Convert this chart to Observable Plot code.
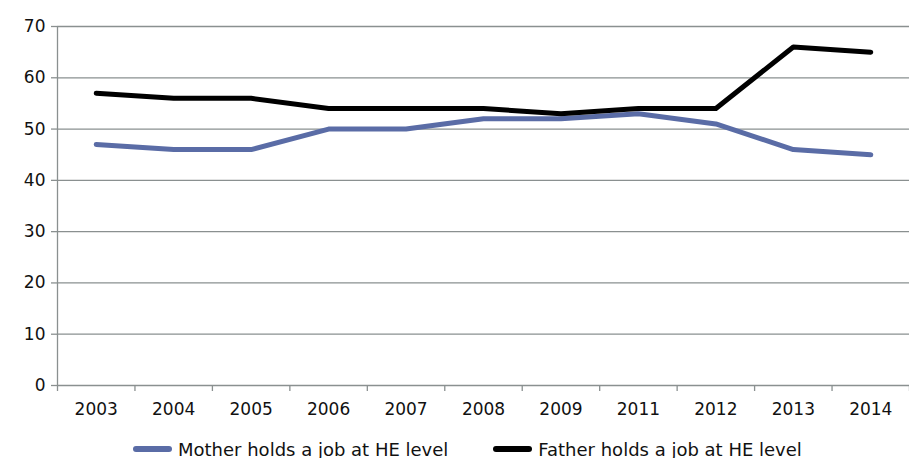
<!DOCTYPE html>
<html><head><meta charset="utf-8">
<script src="https://cdn.jsdelivr.net/npm/d3@7"></script>
<script src="https://cdn.jsdelivr.net/npm/@observablehq/plot@0.6"></script>
<style>
body{margin:0;background:#fff;font-family:"DejaVu Sans",sans-serif;}
#legend{display:flex;justify-content:flex-start;align-items:center;font-size:18px;color:#111;margin-top:11px;height:26px;padding-left:133px;}
.item{display:flex;align-items:center;}
.sw{display:inline-block;width:39px;height:6px;border-radius:3px;margin-right:6px;}
</style></head><body>
<div id="chart"></div>
<div id="legend"></div>
<script>
const years = ["2003","2004","2005","2006","2007","2008","2009","2011","2012","2013","2014"];
const mother = [47,46,46,50,50,52,52,53,51,46,45];
const father = [57,56,56,54,54,54,53,54,54,66,65];
const seriesNames = ["Mother holds a job at HE level","Father holds a job at HE level"];
const colors = ["#5a6ca6","#000000"];
const yTicks = [0,10,20,30,40,50,60,70];

const data = [];
years.forEach((y,i)=>{
  data.push({i, year:y, value:mother[i], series:seriesNames[0]});
  data.push({i, year:y, value:father[i], series:seriesNames[1]});
});
const idx = years.map((_,i)=>i);
const bounds = d3.range(years.length+1).map(i=>i-0.5);

const chart = Plot.plot({
  width: 909, height: 425,
  marginLeft: 57, marginRight: 0, marginTop: 26, marginBottom: 40,
  style:{fontFamily:'"DejaVu Sans",sans-serif', fontSize:"17px", color:"#111", background:"#fff", overflow:"visible"},
  x:{domain:[-0.5, years.length-0.5], axis:null},
  y:{domain:[0,70], axis:null},
  color:{domain:seriesNames, range:colors},
  marks:[
    Plot.gridY(yTicks, {stroke:"#8a9090", strokeOpacity:1, strokeWidth:1.3}),
    Plot.axisY(yTicks, {tickSize:6, tickPadding:6, stroke:"#8a9090", strokeWidth:1.3, fill:"#111", fontSize:17, label:null}),
    Plot.ruleX([-0.5], {stroke:"#8a9090", strokeWidth:1.3}),
    Plot.axisX(bounds, {tickSize:6, tickFormat:()=>"", stroke:"#8a9090", strokeWidth:1.3, label:null}),
    Plot.axisX(idx, {tickSize:0, tickPadding:17, tickFormat:i=>years[i], fill:"#111", fontSize:17, label:null}),
    Plot.line(data, {x:"i", y:"value", z:"series", stroke:"series", strokeWidth:5, strokeLinejoin:"round", strokeLinecap:"round"})
  ]
});
document.getElementById("chart").appendChild(chart);

const leg = document.getElementById("legend");
seriesNames.forEach((n,k)=>{
  const it = document.createElement("div");
  it.className="item";
  if (k>0) it.style.marginLeft="45px";
  const sw = document.createElement("span");
  sw.className="sw"; sw.style.background=colors[k];
  it.appendChild(sw);
  it.appendChild(document.createTextNode(n));
  leg.appendChild(it);
});
</script>
</body></html>
